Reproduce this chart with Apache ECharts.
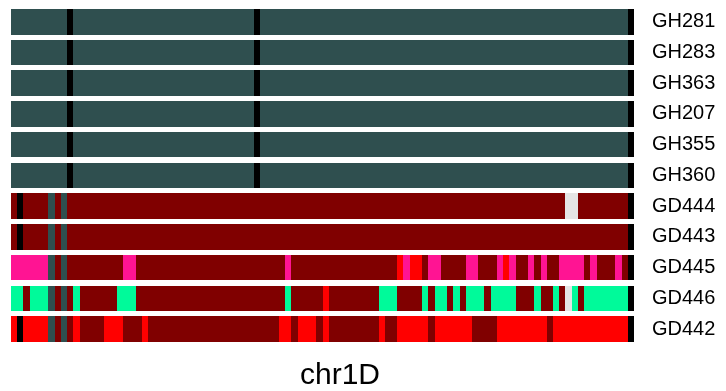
<!DOCTYPE html>
<html>
<head>
<meta charset="utf-8">
<title>chr1D genotype blocks</title>
<script src="https://cdn.jsdelivr.net/npm/echarts@6/dist/echarts.min.js"></script>
<style>
  html, body { margin: 0; padding: 0; background: #ffffff; }
  #chart { width: 726px; height: 391px; }
</style>
</head>
<body>
<div id="chart"></div>
<script>
// Samples, top to bottom
const samples = ['GH281', 'GH283', 'GH363', 'GH207', 'GH355', 'GH360',
                 'GD444', 'GD443', 'GD445', 'GD446', 'GD442'];

// Number of bins along chr1D
const binCount = 100;

// Genotype colour per state code
const stateColors = {
  S: '#2F4F4F',  // slate
  B: '#000000',  // black
  D: '#800000',  // dark red
  P: '#FF1493',  // pink
  G: '#00FA9A',  // green
  R: '#FF0000',  // red
  W: '#E5E5E5'   // missing
};

// Run-length genotype blocks along the chromosome: [state, number of bins]
const ghBlocks = [['S', 9], ['B', 1], ['S', 29], ['B', 1], ['S', 59], ['B', 1]];
const GH281 = ghBlocks;
const GH283 = ghBlocks;
const GH363 = ghBlocks;
const GH207 = ghBlocks;
const GH355 = ghBlocks;
const GH360 = ghBlocks;
const GD444 = [['D', 1], ['B', 1], ['D', 4], ['S', 1], ['D', 1], ['S', 1], ['D', 80], ['W', 2], ['D', 8], ['B', 1]];
const GD443 = [['D', 1], ['B', 1], ['D', 4], ['S', 1], ['D', 1], ['S', 1], ['D', 90], ['B', 1]];
const GD445 = [['P', 6], ['S', 1], ['D', 1], ['S', 1], ['D', 9], ['P', 2], ['D', 24], ['P', 1], ['D', 17],
               ['R', 1], ['P', 1], ['R', 2], ['D', 1], ['P', 2], ['D', 4], ['P', 2], ['D', 3], ['P', 1],
               ['R', 1], ['P', 1], ['D', 2], ['P', 1], ['D', 1], ['P', 1], ['D', 2], ['P', 4], ['D', 1],
               ['P', 1], ['D', 3], ['P', 1], ['D', 1], ['B', 1]];
const GD446 = [['G', 2], ['D', 1], ['G', 3], ['S', 1], ['D', 1], ['S', 1], ['D', 1], ['G', 1], ['D', 6],
               ['G', 3], ['D', 24], ['G', 1], ['D', 5], ['R', 1], ['D', 8], ['G', 3], ['D', 4], ['G', 1],
               ['D', 1], ['G', 2], ['D', 1], ['G', 1], ['D', 1], ['G', 3], ['D', 1], ['G', 4], ['D', 3],
               ['G', 1], ['D', 2], ['G', 1], ['D', 1], ['W', 1], ['G', 1], ['D', 1], ['G', 7], ['B', 1]];
const GD442 = [['R', 1], ['B', 1], ['R', 4], ['S', 1], ['D', 1], ['S', 1], ['D', 1], ['R', 1], ['D', 4],
               ['R', 3], ['D', 3], ['R', 1], ['D', 21], ['R', 2], ['D', 1], ['R', 3], ['D', 1], ['R', 1],
               ['D', 8], ['R', 1], ['D', 2], ['R', 5], ['D', 1], ['R', 6], ['D', 4], ['R', 8], ['D', 1],
               ['R', 12], ['B', 1]];

const blocksBySample = [GH281, GH283, GH363, GH207, GH355, GH360, GD444, GD443, GD445, GD446, GD442];

// One block per run: [binStart, sampleIndex, runLength]
const blocks = [];
const blockStates = [];
blocksBySample.forEach((runs, row) => {
  let pos = 0;
  runs.forEach(([state, n]) => {
    blocks.push([pos, row, n]);
    blockStates.push(state);
    pos += n;
  });
});

const chart = echarts.init(document.getElementById('chart'), null, { renderer: 'canvas' });

const fontFamily = '"Liberation Sans", Arial, Helvetica, sans-serif';

chart.setOption({
  animation: false,
  backgroundColor: '#ffffff',
  grid: { left: 11, right: 92, top: 6.3, bottom: 46.5 },
  xAxis: {
    type: 'value',
    min: 0,
    max: binCount,
    show: false
  },
  yAxis: {
    type: 'category',
    data: samples,
    inverse: true,
    position: 'right',
    axisLine: { show: false },
    axisTick: { show: false },
    splitLine: { show: false },
    axisLabel: {
      margin: 18,
      color: '#000000',
      fontSize: 20,
      fontFamily: fontFamily
    }
  },
  graphic: [{
    type: 'text',
    left: 300,
    top: 361,
    style: {
      text: 'chr1D',
      fontSize: 30,
      fontFamily: fontFamily,
      fill: '#000000'
    }
  }],
  series: [{
    type: 'custom',
    data: blocks,
    encode: { x: 0, y: 1 },
    renderItem: function (params, api) {
      const start = api.value(0);
      const row = api.value(1);
      const len = api.value(2);
      const p0 = api.coord([start, row]);
      const p1 = api.coord([start + len, row]);
      const h = api.size([0, 1])[1] * 0.835;
      // snap block edges to whole pixels so neighbouring runs meet without seams
      const x0 = Math.round(p0[0]);
      const x1 = Math.round(p1[0]);
      const y0 = Math.round(p0[1] - h / 2);
      const y1 = Math.round(p0[1] + h / 2);
      return {
        type: 'rect',
        shape: { x: x0, y: y0, width: x1 - x0, height: y1 - y0 },
        style: { fill: stateColors[blockStates[params.dataIndex]] }
      };
    }
  }]
});
</script>
</body>
</html>
